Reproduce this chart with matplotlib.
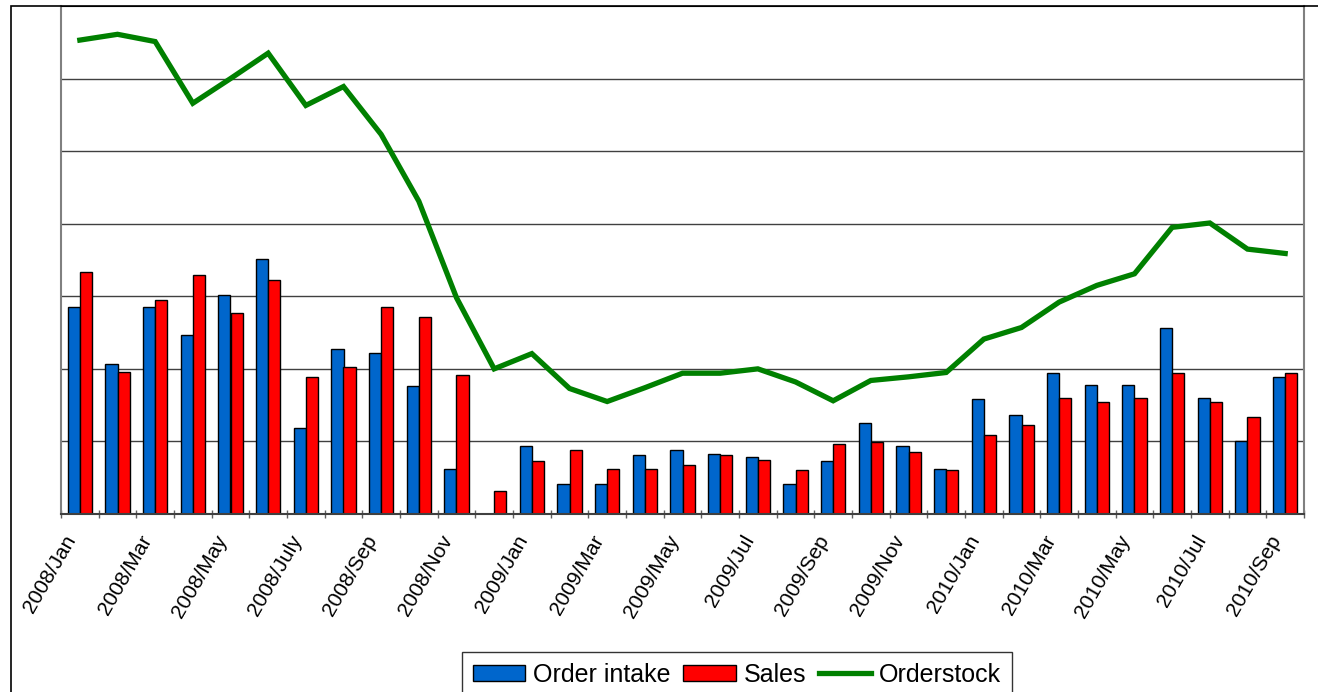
import numpy as np
import matplotlib
matplotlib.use("Agg")
import matplotlib.pyplot as plt
from matplotlib.patches import Rectangle

plt.rcParams['font.family'] = ['Liberation Sans', 'DejaVu Sans']

months = ["2008/Jan", "2008/Feb", "2008/Mar", "2008/Apr", "2008/May", "2008/Jun",
          "2008/July", "2008/Aug", "2008/Sep", "2008/Oct", "2008/Nov", "2008/Dec",
          "2009/Jan", "2009/Feb", "2009/Mar", "2009/Apr", "2009/May", "2009/Jun",
          "2009/Jul", "2009/Aug", "2009/Sep", "2009/Oct", "2009/Nov", "2009/Dec",
          "2010/Jan", "2010/Feb", "2010/Mar", "2010/Apr", "2010/May", "2010/Jun",
          "2010/Jul", "2010/Aug", "2010/Sep"]

order_intake = [2.85, 2.07, 2.85, 2.46, 3.02, 3.51, 1.19, 2.28, 2.22, 1.76, 0.62, 0.0,
                0.94, 0.42, 0.42, 0.81, 0.88, 0.83, 0.78, 0.42, 0.73, 1.25, 0.94, 0.62,
                1.58, 1.37, 1.94, 1.78, 1.78, 2.56, 1.60, 1.01, 1.89]

sales = [3.33, 1.96, 2.95, 3.30, 2.77, 3.23, 1.89, 2.02, 2.85, 2.71, 1.91, 0.32,
         0.73, 0.88, 0.62, 0.62, 0.67, 0.81, 0.75, 0.60, 0.96, 0.99, 0.86, 0.60,
         1.09, 1.22, 1.60, 1.55, 1.60, 1.94, 1.55, 1.34, 1.94]

orderstock = [6.53, 6.61, 6.51, 5.66, 6.00, 6.35, 5.63, 5.89, 5.23, 4.31, 2.98, 2.00,
              2.21, 1.73, 1.55, 1.74, 1.94, 1.94, 2.00, 1.82, 1.56, 1.84, 1.89, 1.95,
              2.41, 2.57, 2.92, 3.15, 3.31, 3.95, 4.01, 3.65, 3.59]

W, H = 1318, 692
fig = plt.figure(figsize=(W / 100, H / 100), dpi=100)
ax = fig.add_axes([61 / W, 1 - 514 / H, (1304 - 61) / W, (514 - 6) / H])

# outer chart frame
fig.patches.append(Rectangle((11 / W, -0.05), 1.1, 1 - 6 / H + 0.05, transform=fig.transFigure,
                             fill=False, edgecolor='black', linewidth=1.2, zorder=0))

x = np.arange(len(months))
bw = 0.32
b1 = ax.bar(x - bw / 2, order_intake, bw, color='#0066CC', edgecolor='black', linewidth=1.0,
            label='Order intake', zorder=2)
b2 = ax.bar(x + bw / 2, sales, bw, color='#FF0000', edgecolor='black', linewidth=1.0,
            label='Sales', zorder=2)
l1, = ax.plot(x, orderstock, color='#008000', linewidth=3.8, solid_joinstyle='miter',
              label='Orderstock', zorder=3)

ax.set_xlim(-0.5, len(months) - 0.5)
ax.set_ylim(0, 7)
ax.set_yticks(range(1, 7))
ax.yaxis.grid(True, color='#404040', linewidth=1.0)
ax.set_axisbelow(True)
ax.tick_params(axis='y', left=False, labelleft=False)

ax.set_xticks(x[::2])
ax.set_xticklabels(months[::2], rotation=60, ha='right', va='top', fontsize=15)
ax.set_xticks(np.arange(-0.5, len(months)), minor=True)
ax.tick_params(axis='x', which='major', length=0, pad=13)
ax.tick_params(axis='x', which='minor', length=6, width=1, color='#606060', direction='inout')

for s in ['left', 'right']:
    ax.spines[s].set_color('#808080')
    ax.spines[s].set_linewidth(1.5)
ax.spines['top'].set_color('black')
ax.spines['bottom'].set_color('#404040')
ax.spines['bottom'].set_linewidth(1.5)

leg = fig.legend([b1, b2, l1], ['Order intake', 'Sales', 'Orderstock'],
                 loc='upper left', bbox_to_anchor=(462 / W, 1 - 652 / H), ncol=3,
                 fontsize=18, frameon=True, fancybox=False, borderaxespad=0,
                 handlelength=2.1, handleheight=0.6, handletextpad=0.32, columnspacing=0.5,
                 borderpad=0.42, edgecolor='black')
leg.get_frame().set_linewidth(1.0)

fig.savefig("out.png", dpi=100)
